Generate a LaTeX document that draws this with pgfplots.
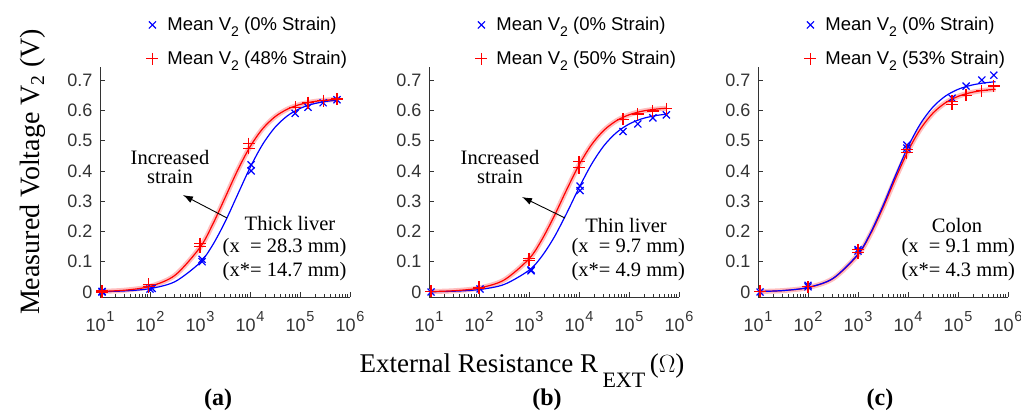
\documentclass[border=0pt]{standalone}
\usepackage{fontspec}
\setmainfont{Liberation Serif}
\newfontfamily\arial{Liberation Sans}
\usepackage{pgfplots}
\pgfplotsset{compat=1.18}
\usetikzlibrary{arrows.meta}

\newcommand{\ee}[1]{10\kern0.8pt\raisebox{9.5pt}{\fontsize{14.5}{14.5}\selectfont #1}}
\newcommand{\Vt}{V\raisebox{-6pt}{\fontsize{14}{14}\selectfont 2}}

\pgfplotsset{
 mypanel/.style={
   scale only axis, width=250pt, height=230pt,
   xmin=10, xmax=1e6, ymin=-0.0165, ymax=0.743,
   axis x line*=bottom, axis y line*=left,
   axis line style={-, black!80, line width=0.8pt},
   tick align=inside,
   xtick={10,100,1000,10000,100000,1000000},
   xticklabels={\ee{1},\ee{2},\ee{3},\ee{4},\ee{5},\ee{6}},
   ytick={0,0.1,0.2,0.3,0.4,0.5,0.6,0.7},
   yticklabels={0,0.1,0.2,0.3,0.4,0.5,0.6,0.7},
   tick label style={font=\arial\fontsize{18}{18}\selectfont, text=black!80},
   xticklabel style={yshift=-11pt},
   yticklabel style={xshift=-4pt},
   major tick length=5pt, minor tick length=3pt,
   tick style={black!80, line width=0.6pt},
   clip=false,
   legend style={draw=none, fill=none, font=\arial\fontsize{18.5}{20}\selectfont,
     at={(0.185,1.225)}, anchor=north west, row sep=15pt, inner sep=0pt},
   legend cell align=left,
 },
 bmark/.style={only marks, mark=x, mark size=5pt, blue, mark options={line width=1.2pt}},
 rmark/.style={only marks, mark=+, mark size=6pt, red, mark options={line width=1.2pt}},
 bline/.style={no marks, smooth, blue, line width=1.2pt, forget plot},
 rband/.style={no marks, smooth, red!25, line width=5pt, forget plot},
 rline/.style={no marks, smooth, red, line width=1.2pt, forget plot},
}

\begin{document}
\begin{tikzpicture}[x=1pt,y=1pt]
\useasboundingbox (0,0) rectangle (1021,415);

% ---------------- (a)
\begin{semilogxaxis}[mypanel, at={(100pt,118pt)}, anchor=south west]
\addplot[rband] coordinates {(10,0.0019)(31.62,0.0060)(100,0.01855)(316.2,0.0552)(1000,0.1471)(1778,0.2219)(3162,0.3108)(5623,0.4011)(10000,0.4794)(17783,0.5385)(31623,0.5787)(56234,0.6040)(100000,0.6193)(177828,0.6282)(316228,0.6333)(562341,0.6362)};
\addplot[bline] coordinates {(10,0.00114)(31.62,0.00359)(100,0.01123)(316.2,0.0342)(1000,0.0970)(1778,0.1542)(3162,0.2310)(5623,0.3207)(10000,0.4103)(17783,0.4867)(31623,0.5437)(56234,0.5820)(100000,0.6061)(177828,0.6205)(316228,0.6289)(562341,0.6337)};
\addplot[rline] coordinates {(10,0.0019)(31.62,0.0060)(100,0.01855)(316.2,0.0552)(1000,0.1471)(1778,0.2219)(3162,0.3108)(5623,0.4011)(10000,0.4794)(17783,0.5385)(31623,0.5787)(56234,0.6040)(100000,0.6193)(177828,0.6282)(316228,0.6333)(562341,0.6362)};
\addplot[bmark] coordinates {(11,0.002)(11,0.0)(100,0.010)(110,0.012)(1100,0.100)(1100,0.108)(10500,0.400)(10500,0.420)(80000,0.590)(145000,0.610)(290000,0.625)(550000,0.635)};
\addplot[rmark] coordinates {(11,0.003)(11,0.0)(95,0.017)(95,0.025)(1000,0.150)(1000,0.160)(9500,0.475)(9500,0.490)(80000,0.610)(145000,0.625)(290000,0.632)(550000,0.637)};
\legend{\hspace{7pt}Mean \Vt{} (0\% Strain), \hspace{7pt}Mean \Vt{} (48\% Strain)}
\end{semilogxaxis}

% ---------------- (b)
\begin{semilogxaxis}[mypanel, at={(429pt,118pt)}, anchor=south west]
\addplot[rband] coordinates {(10,0.00133)(31.62,0.00418)(100,0.0130)(316.2,0.0394)(1000,0.1093)(1778,0.1706)(3162,0.2493)(5623,0.3366)(10000,0.4192)(17783,0.4862)(31623,0.5343)(56234,0.5657)(100000,0.5851)(177828,0.5966)(316228,0.6032)(562341,0.6070)};
\addplot[bline] coordinates {(10,0.00081)(31.62,0.00257)(100,0.00804)(316.2,0.0247)(1000,0.0717)(1778,0.1165)(3162,0.1798)(5623,0.2589)(10000,0.3439)(17783,0.4218)(31623,0.4834)(56234,0.5266)(100000,0.5545)(177828,0.5715)(316228,0.5816)(562341,0.5874)};
\addplot[rline] coordinates {(10,0.00133)(31.62,0.00418)(100,0.0130)(316.2,0.0394)(1000,0.1093)(1778,0.1706)(3162,0.2493)(5623,0.3366)(10000,0.4192)(17783,0.4862)(31623,0.5343)(56234,0.5657)(100000,0.5851)(177828,0.5966)(316228,0.6032)(562341,0.6070)};
\addplot[bmark] coordinates {(11,0.0)(105,0.010)(1100,0.070)(1100,0.073)(10500,0.335)(10500,0.350)(76000,0.530)(150000,0.555)(300000,0.575)(560000,0.585)};
\addplot[rmark] coordinates {(11,0.002)(100,0.013)(100,0.016)(1000,0.105)(1000,0.110)(10000,0.410)(10000,0.430)(76000,0.570)(150000,0.588)(300000,0.598)(560000,0.605)};
\legend{\hspace{7pt}Mean \Vt{} (0\% Strain), \hspace{7pt}Mean \Vt{} (50\% Strain)}
\end{semilogxaxis}

% ---------------- (c)
\begin{semilogxaxis}[mypanel, at={(758pt,118pt)}, anchor=south west]
\addplot[rband] coordinates {(10,0.0015)(31.62,0.00471)(100,0.01467)(316.2,0.0443)(1000,0.1227)(1778,0.1912)(3162,0.2785)(5623,0.3749)(10000,0.4655)(17783,0.5387)(31623,0.5909)(56234,0.6250)(100000,0.6459)(177828,0.6583)(316228,0.6655)(562341,0.6696)};
\addplot[rline] coordinates {(10,0.0015)(31.62,0.00471)(100,0.01467)(316.2,0.0443)(1000,0.1227)(1778,0.1912)(3162,0.2785)(5623,0.3749)(10000,0.4655)(17783,0.5387)(31623,0.5909)(56234,0.6250)(100000,0.6459)(177828,0.6583)(316228,0.6655)(562341,0.6696)};
\addplot[bline] coordinates {(10,0.00152)(31.62,0.00478)(100,0.0149)(316.2,0.0450)(1000,0.125)(1778,0.1951)(3162,0.2852)(5623,0.3850)(10000,0.4795)(17783,0.5561)(31623,0.6111)(56234,0.6471)(100000,0.6692)(177828,0.6823)(316228,0.6900)(562341,0.6943)};
\addplot[bmark] coordinates {(11,0.0)(100,0.017)(100,0.022)(1000,0.135)(1000,0.140)(9500,0.475)(9500,0.485)(76000,0.640)(145000,0.680)(300000,0.700)(520000,0.716)};
\addplot[rmark] coordinates {(11,0.002)(100,0.017)(1000,0.130)(1000,0.140)(9500,0.460)(9500,0.470)(76000,0.620)(76000,0.630)(145000,0.650)(300000,0.665)(520000,0.680)};
\legend{\hspace{7pt}Mean \Vt{} (0\% Strain), \hspace{7pt}Mean \Vt{} (53\% Strain)}
\end{semilogxaxis}

% ---------------- labels
\node[rotate=90, font=\fontsize{28}{28}\selectfont] at (33,243) {Measured Voltage V\textsubscript{2} (V)};
\node[font=\fontsize{27}{27}\selectfont, anchor=base] at (522,42) {External Resistance R\,\raisebox{-15pt}{\fontsize{22}{22}\selectfont EXT}\,($\Omega$)};
\node[font=\bfseries\fontsize{24}{24}\selectfont] at (218,15) {(a)};
\node[font=\bfseries\fontsize{24}{24}\selectfont] at (547,15) {(b)};
\node[font=\bfseries\fontsize{24}{24}\selectfont] at (880,15) {(c)};

% annotations (a)
\node[font=\fontsize{20.5}{20.5}\selectfont, align=center] at (170,248) {Increased\\[-2pt]strain};
\draw[-{Latex[length=10pt,width=7pt]}, line width=0.9pt] (227,197) -- (183,220);
\node[font=\fontsize{20.5}{20.5}\selectfont] at (290,192) {Thick liver};
\node[font=\fontsize{20.5}{20.5}\selectfont, anchor=east] at (350,167) {(x\ \ = 28.3 mm)};
\node[font=\fontsize{20.5}{20.5}\selectfont, anchor=east] at (350,143) {(x*= 14.7 mm)};

% annotations (b)
\node[font=\fontsize{20.5}{20.5}\selectfont, align=center] at (500,248) {Increased\\[-2pt]strain};
\draw[-{Latex[length=10pt,width=7pt]}, line width=0.9pt] (565,197) -- (522,218);
\node[font=\fontsize{20.5}{20.5}\selectfont] at (626,190) {Thin liver};
\node[font=\fontsize{20.5}{20.5}\selectfont, anchor=west] at (568,167) {(x\ \ = 9.7 mm)};
\node[font=\fontsize{20.5}{20.5}\selectfont, anchor=west] at (568,143) {(x*= 4.9 mm)};

% annotations (c)
\node[font=\fontsize{20.5}{20.5}\selectfont] at (957,190) {Colon};
\node[font=\fontsize{20.5}{20.5}\selectfont, anchor=west] at (898,167) {(x\ \ = 9.1 mm)};
\node[font=\fontsize{20.5}{20.5}\selectfont, anchor=west] at (898,143) {(x*= 4.3 mm)};
\end{tikzpicture}
\end{document}
